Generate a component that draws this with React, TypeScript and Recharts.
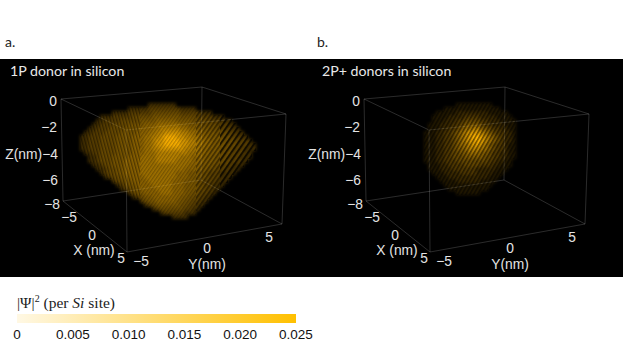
import { Bar, BarChart, ReferenceLine, Scatter, ScatterChart, XAxis, YAxis } from "recharts";

// brightness, one string per row of the cloud, 0 = nothing, 9 = peak
const cloud1P = [
  "000000000000000001111111",
  "00000000000011111222222221111",
  "000000001111222222333333322222111",
  "000001112222233333444444433332222111",
  "00001122223333344445555544443333222111",
  "000112223333444455566666655444333322211",
  "0011222333344445556677777665544433322211",
  "01122233334444555667788887766554443332211",
  "112223333444455566778999887766554443332211",
  "1122233334444555667889999887766554443332221",
  "11222333344445556678899998877665544433322211",
  "11222333344445556677888888776655444333222111",
  "0112233334444555666777777776665544433322211",
  "0011233344445556666777777666555444333222111",
  "001123334445555666677777666655544433322211",
  "00011233444555566666666666655544433222111",
  "0000112334455556666666666655544433222111",
  "000001233445555666666666555444332221111",
  "00000012334455556666666655544433222111",
  "0000000023344555566666655544433222111",
  "000000000123445555666665554443322111",
  "00000000001234455556666555444332211",
  "0000000000002344555566655544332211",
  "000000000000012344555555544332211",
  "00000000000000023445555544332211",
  "0000000000000000123444444332211",
  "000000000000000000123333332211",
  "00000000000000000000122222111",
  "000000000000000000000001111",
];

const cloud2P = [
  "00000000111111111",
  "0000011111111111111",
  "000111112222222211111",
  "0011112222333322221111",
  "00111222334444332221111",
  "01112223345555433222111",
  "01112233456677554332211",
  "11122334567888765433221",
  "11122334567899876543221",
  "11122334567889876543221",
  "11122334566788765433211",
  "11122334556777665433211",
  "11122334455666554332211",
  "11122334445555544332211",
  "1112233344444444332211",
  "0111223333444433322111",
  "011122233333322222111",
  "00111222233332222111",
  "0001112222222222111",
  "000011112222221111",
  "00000111111111111",
  "0000001111111111",
  "00000000111111",
];

const zTicks = [0, -2, -4, -6, -8];
const xTicks = [-5, 0, 5];
const yTicks = [-5, 0, 5];
const barTicks = [0, 0.005, 0.01, 0.015, 0.02, 0.025];
const colorbar = [{ name: "psi", value: 0.025 }];

const W = 623;
const H = 350;
const PITCH = 4;
const AMBER = "#ffb400";
const PANEL_SHIFT = 303;
const OPACITY_1P = [0, 0.25, 0.34, 0.41, 0.47, 0.54, 0.62, 0.72, 0.84, 0.98];
const OPACITY_2P = [0, 0.12, 0.21, 0.3, 0.39, 0.49, 0.6, 0.72, 0.85, 1];

// where the drawn box sits on the page
const corners: Record<string, [number, number]> = {
  tl: [61, 99], tb: [202, 87], tr: [286, 114], tf: [126, 130],
  bl: [63, 201], bb: [201, 180], br: [282, 224], bf: [127, 252],
};
const edges = [
  ["tl", "tb"], ["tb", "tr"], ["tl", "tf"], ["tf", "tr"],
  ["tl", "bl"], ["tb", "bb"], ["tr", "br"], ["tf", "bf"],
  ["bl", "bb"], ["bb", "br"], ["bl", "bf"], ["bf", "br"],
];

const zPos = [[57, 101], [57, 127], [58, 154], [58, 180], [60, 204]];
const xPos = [[69, 217], [92, 235], [121, 258]];
const yPos = [[141, 261], [207, 248], [269, 237]];

const fmt = (v: number) => (v < 0 ? `\u2212${-v}` : `${v}`);

function cells(rows: string[], x0: number, y0: number, zones: [number, string][], opacity: number[]) {
  const out: any[] = [];
  rows.forEach((row, j) => {
    [...row].forEach((c, i) => {
      const level = Number(c);
      if (!level) return;
      const x = x0 + i * PITCH;
      const zone = zones.find((z) => x < z[0]) ?? zones[zones.length - 1];
      out.push({ x, y: y0 + j * PITCH, alpha: opacity[level], pat: zone[1] });
    });
  });
  return out;
}

// soft glow underneath, black lattice stripes laid over it
const Glow = (p: any) => (
  <rect x={p.cx - PITCH / 2} y={p.cy - PITCH / 2} width={PITCH} height={PITCH} fill={AMBER} fillOpacity={p.payload.alpha} />
);
const Lattice = (p: any) => (
  <rect x={p.cx - PITCH / 2} y={p.cy - PITCH / 2} width={PITCH} height={PITCH} fill={`url(#${p.payload.pat})`} />
);

const Label = (p: any) => (
  <text
    x={p.cx}
    y={p.cy}
    textAnchor={p.payload.anchor}
    dominantBaseline="central"
    fontFamily="Liberation Sans"
    fontSize={13.8}
    fill="#e4e4e4"
  >
    {p.payload.text}
  </text>
);

function labels(dx: number) {
  const out = [
    ...zTicks.map((v, i) => ({ x: zPos[i][0] + dx, y: zPos[i][1], text: fmt(v), anchor: "end" })),
    ...xTicks.map((v, i) => ({ x: xPos[i][0] + dx, y: xPos[i][1], text: fmt(v), anchor: "middle" })),
    ...yTicks.map((v, i) => ({ x: yPos[i][0] + dx, y: yPos[i][1], text: fmt(v), anchor: "middle" })),
    { x: 42 + dx, y: 154, text: "Z(nm)", anchor: "end" },
    { x: 94 + dx, y: 250, text: "X (nm)", anchor: "middle" },
    { x: 207 + dx, y: 264, text: "Y(nm)", anchor: "middle" },
  ];
  return out;
}

const Stripes = ({ id, size, angle, dark }: any) => (
  <pattern id={id} patternUnits="userSpaceOnUse" width={size} height={size} patternTransform={`rotate(${angle})`}>
    <rect width={size * 0.45} height={size} fill="#000" fillOpacity={dark} />
  </pattern>
);

const pageText = (left: number, top: number, fontSize: number, color: string): React.CSSProperties => ({
  position: "absolute", left, top, fontSize, color, fontFamily: "Lato", lineHeight: 1, whiteSpace: "nowrap",
});

const glow1 = cells(cloud1P, 82, 105, [[999, ""]], OPACITY_1P);
const glow2 = cells(cloud2P, 426, 105, [[999, ""]], OPACITY_2P);
const lattice1 = cells(cloud1P, 82, 105, [[142, "latticeA"], [196, "latticeMid"], [222, "latticeB1"], [999, "latticeB2"]], OPACITY_1P);
const lattice2 = cells(cloud2P, 426, 105, [[999, "latticeC"]], OPACITY_2P);

export default function App() {
  return (
    <div style={{ position: "absolute", left: 0, top: 0, width: W, height: H, background: "#fff", overflow: "hidden" }}>
      <style>{`.glow{filter:blur(1.7px)} .lattice{filter:blur(0.35px)}`}</style>
      <div style={{ position: "absolute", left: 0, top: 59, width: W, height: 218, background: "#000" }} />
      <ScatterChart width={W} height={H} margin={{ top: 0, right: 0, bottom: 0, left: 0 }} style={{ position: "absolute", left: 0, top: 0 }}>
        <defs>
          <Stripes id="latticeA" size={3} angle={-15} dark={0.42} />
          <Stripes id="latticeMid" size={2.8} angle={35} dark={0.25} />
          <Stripes id="latticeB1" size={3.6} angle={35} dark={0.45} />
          <Stripes id="latticeB2" size={4.6} angle={35} dark={0.75} />
          <Stripes id="latticeC" size={3.4} angle={30} dark={0.5} />
        </defs>
        <XAxis type="number" dataKey="x" domain={[0, W]} hide />
        <YAxis type="number" dataKey="y" domain={[0, H]} reversed hide />
        <Scatter className="glow" data={glow1} shape={Glow} isAnimationActive={false} />
        <Scatter className="glow" data={glow2} shape={Glow} isAnimationActive={false} />
        <Scatter className="lattice" data={lattice1} shape={Lattice} isAnimationActive={false} />
        <Scatter className="lattice" data={lattice2} shape={Lattice} isAnimationActive={false} />
        {[0, PANEL_SHIFT].flatMap((dx) =>
          edges.map(([a, b]) => (
            <ReferenceLine
              key={`${dx}${a}${b}`}
              segment={[
                { x: corners[a][0] + dx, y: corners[a][1] },
                { x: corners[b][0] + dx, y: corners[b][1] },
              ]}
              stroke="#fff"
              strokeOpacity={0.17}
              strokeWidth={1}
            />
          ))
        )}
        <Scatter data={labels(0)} shape={Label} isAnimationActive={false} />
        <Scatter data={labels(PANEL_SHIFT)} shape={Label} isAnimationActive={false} />
      </ScatterChart>

      <div style={pageText(5, 35, 14, "#222")}>a.</div>
      <div style={pageText(317, 35, 14, "#222")}>b.</div>
      <div style={pageText(10, 64, 14.2, "#e8e8e8")}>1P donor in silicon</div>
      <div style={pageText(322, 64, 14.2, "#e8e8e8")}>2P+ donors in silicon</div>
      <div style={{ position: "absolute", left: 17, top: 295, fontFamily: "Liberation Serif", fontSize: 15.5, lineHeight: 1, color: "#222", whiteSpace: "nowrap" }}>
        |{"\u03A8"}|<sup style={{ fontSize: 10, lineHeight: 0 }}>2</sup> (per <i>Si</i> site)
      </div>

      <BarChart
        width={W}
        height={40}
        layout="vertical"
        data={colorbar}
        barCategoryGap={0}
        margin={{ top: 0, right: W - 296, bottom: 0, left: 17 }}
        style={{ position: "absolute", left: 0, top: 314 }}
      >
        <defs>
          <linearGradient id="psiScale" x1="0" y1="0" x2="1" y2="0">
            <stop offset="0%" stopColor="#fff8e4" />
            <stop offset="100%" stopColor="#ffc000" />
          </linearGradient>
        </defs>
        <XAxis
          type="number"
          domain={[0, 0.025]}
          ticks={barTicks}
          interval={0}
          height={31}
          axisLine={false}
          tickLine={false}
          dy={-2}
          tickFormatter={(v: number) => (v === 0 ? "0" : v.toFixed(3))}
          tick={{ fontSize: 13.5, fill: "#111", fontFamily: "Liberation Sans" }}
        />
        <YAxis type="category" dataKey="name" hide />
        <Bar dataKey="value" fill="url(#psiScale)" isAnimationActive={false} />
      </BarChart>
    </div>
  );
}
